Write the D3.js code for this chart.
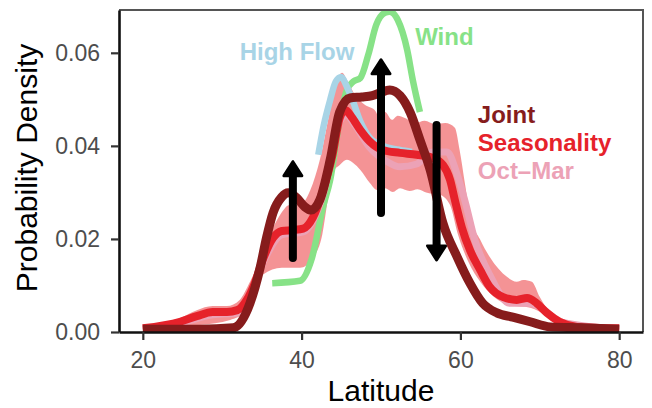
<!DOCTYPE html>
<html>
<head>
<meta charset="utf-8">
<script src="https://cdn.jsdelivr.net/npm/d3@7/dist/d3.min.js"></script>
<style>
  html, body { margin: 0; padding: 0; background: #fff; }
  svg { display: block; }
  text { font-family: "Liberation Sans", Arial, Helvetica, sans-serif; }
</style>
</head>
<body>
<svg id="chart" width="652" height="408"></svg>
<script>
// Latitude (deg) and probability density for each scenario
const windLat = [36.3, 39.8, 41.3, 42.7, 43.6, 44.8, 45.7, 46.5, 47.4, 48.4, 49.4, 50.5, 51.1, 52.1, 53.3, 54.0, 54.9];
const windDens = [0.0105, 0.0110, 0.0159, 0.0269, 0.0327, 0.0456, 0.0520, 0.0538, 0.0546, 0.0596, 0.0660, 0.0686, 0.0688, 0.0671, 0.0606, 0.0542, 0.0473];

const highFlowLat = [42.1, 42.8, 43.6, 44.3, 45.0, 45.6, 46.4, 47.4, 48.6, 50.3, 52.4, 53.9];
const highFlowDens = [0.0381, 0.0445, 0.0499, 0.0538, 0.0548, 0.0531, 0.0499, 0.0452, 0.0417, 0.0400, 0.0391, 0.0387];

const jointLat = [20.0, 27.2, 31.4, 33.5, 34.8, 35.6, 36.4, 37.5, 38.3, 39.4, 40.4, 41.2, 42.3, 43.6, 44.8, 46.1, 47.6, 48.9, 49.9, 51.1, 52.4, 53.7, 54.9, 56.2, 57.8, 59.6, 61.2, 62.8, 64.6, 66.6, 68.8, 71.3, 75.1, 80.0];
const jointDens = [0.0006, 0.0006, 0.0009, 0.0062, 0.0140, 0.0204, 0.0256, 0.0290, 0.0299, 0.0288, 0.0269, 0.0262, 0.0284, 0.0370, 0.0473, 0.0503, 0.0505, 0.0508, 0.0514, 0.0520, 0.0508, 0.0471, 0.0413, 0.0348, 0.0234, 0.0161, 0.0105, 0.0062, 0.0041, 0.0032, 0.0022, 0.0011, 0.0009, 0.0006];

const seasonLat = [20.0, 24.7, 26.8, 28.8, 30.6, 31.9, 33.1, 34.1, 35.1, 36.4, 37.5, 38.9, 40.2, 41.4, 42.7, 43.9, 44.8, 45.5, 46.3, 47.4, 48.6, 50.2, 52.4, 54.5, 56.5, 57.8, 58.7, 59.3, 60.2, 61.2, 62.5, 63.7, 65.4, 67.1, 68.4, 69.6, 70.9, 72.5, 74.7, 80.0];
const seasonDens = [0.0008, 0.0022, 0.0034, 0.0043, 0.0043, 0.0047, 0.0069, 0.0105, 0.0155, 0.0202, 0.0217, 0.0219, 0.0222, 0.0245, 0.0305, 0.0381, 0.0460, 0.0477, 0.0462, 0.0434, 0.0409, 0.0391, 0.0385, 0.0381, 0.0374, 0.0359, 0.0327, 0.0284, 0.0224, 0.0176, 0.0133, 0.0097, 0.0075, 0.0069, 0.0073, 0.0062, 0.0041, 0.0022, 0.0011, 0.0008];

const octMarLat = [20.0, 24.7, 28.8, 31.9, 33.1, 35.1, 37.5, 40.2, 42.7, 44.8, 45.6, 46.7, 48.6, 50.8, 52.4, 54.5, 56.5, 58.3, 59.6, 60.6, 61.8, 63.7, 66.2, 68.4, 70.0, 72.5, 80.0];
const octMarDens = [0.0006, 0.0019, 0.0037, 0.0041, 0.0062, 0.0148, 0.0209, 0.0215, 0.0295, 0.0452, 0.0467, 0.0445, 0.0396, 0.0366, 0.0355, 0.0361, 0.0387, 0.0387, 0.0338, 0.0280, 0.0199, 0.0123, 0.0062, 0.0062, 0.0054, 0.0022, 0.0006];

// Seasonality uncertainty band
const bandUpperLat = [20.0, 24.7, 26.8, 28.8, 30.6, 32.2, 33.5, 34.8, 36.0, 37.3, 38.5, 39.8, 41.1, 42.3, 43.6, 44.5, 45.1, 45.7, 46.7, 48.0, 49.2, 49.9, 50.5, 51.4, 52.1, 53.0, 54.3, 55.5, 56.8, 58.1, 59.3, 59.9, 60.6, 61.2, 62.5, 63.7, 65.9, 67.1, 67.9, 69.0, 70.0, 71.3, 72.9, 75.4, 80.0];
const bandUpperDens = [0.0009, 0.0030, 0.0047, 0.0056, 0.0056, 0.0069, 0.0108, 0.0155, 0.0209, 0.0252, 0.0273, 0.0273, 0.0305, 0.0370, 0.0477, 0.0542, 0.0557, 0.0542, 0.0510, 0.0488, 0.0477, 0.0460, 0.0473, 0.0456, 0.0465, 0.0460, 0.0449, 0.0454, 0.0447, 0.0449, 0.0439, 0.0391, 0.0316, 0.0252, 0.0198, 0.0161, 0.0118, 0.0108, 0.0112, 0.0108, 0.0075, 0.0041, 0.0019, 0.0011, 0.0009];
const bandLowerLat = [20.0, 27.2, 31.0, 32.9, 34.1, 35.1, 37.5, 39.8, 41.4, 42.6, 43.3, 43.9, 44.8, 45.7, 46.5, 47.4, 48.6, 49.5, 50.5, 51.5, 52.4, 53.6, 54.6, 55.8, 57.4, 58.7, 59.7, 61.0, 62.5, 64.4, 66.2, 68.8, 70.7, 72.5, 75.1, 80.0];
const bandLowerDens = [0.0006, 0.0015, 0.0026, 0.0043, 0.0080, 0.0123, 0.0138, 0.0138, 0.0159, 0.0209, 0.0284, 0.0342, 0.0359, 0.0370, 0.0363, 0.0348, 0.0320, 0.0305, 0.0309, 0.0301, 0.0309, 0.0303, 0.0307, 0.0299, 0.0295, 0.0273, 0.0209, 0.0151, 0.0108, 0.0073, 0.0058, 0.0052, 0.0037, 0.0017, 0.0009, 0.0006];

// Shifts in density: latitude, start, end
const shiftLat = [38.9, 50.0, 57.0];
const shiftFrom = [0.0159, 0.0256, 0.0445];
const shiftTo = [0.0366, 0.0585, 0.0155];

const xTicks = [20, 40, 60, 80];
const yTicks = [0.00, 0.02, 0.04, 0.06];

const svg = d3.select("#chart");
const W = 652, H = 408;
const margin = { left: 119, right: 9, top: 10, bottom: 76 };

const x = d3.scaleLinear().domain([17, 83]).range([margin.left, W - margin.right]);
const y = d3.scaleLinear().domain([0, 0.0692]).range([H - margin.bottom, margin.top]);

const zip = (a, b) => a.map((v, i) => [v, b[i]]);

svg.append("rect").attr("width", W).attr("height", H).attr("fill", "#fff");

svg.append("defs").append("clipPath").attr("id", "panel")
  .append("rect")
  .attr("x", x.range()[0]).attr("y", y.range()[1])
  .attr("width", x.range()[1] - x.range()[0])
  .attr("height", y.range()[0] - y.range()[1]);

const plot = svg.append("g").attr("clip-path", "url(#panel)");

const line = d3.line().x(d => x(d[0])).y(d => y(d[1])).curve(d3.curveMonotoneX);

// uncertainty band around the seasonality curve
const upper = zip(bandUpperLat, bandUpperDens);
const lower = zip(bandLowerLat, bandLowerDens);
const bandPath = line(upper) + "L" + line(lower.slice().reverse()).slice(1) + "Z";
plot.append("path")
  .attr("d", bandPath)
  .attr("fill", "#f38486")
  .attr("fill-opacity", 0.88);

const series = [
  { lat: windLat, dens: windDens, color: "#87e287", width: 6.5 },
  { lat: highFlowLat, dens: highFlowDens, color: "#a8d4e6", width: 6.5 },
  { lat: octMarLat, dens: octMarDens, color: "#eca2b6", width: 7 },
  { lat: seasonLat, dens: seasonDens, color: "#e6222b", width: 8 },
  { lat: jointLat, dens: jointDens, color: "#861c1c", width: 9 }
];

series.forEach(s => {
  plot.append("path")
    .attr("d", line(zip(s.lat, s.dens)))
    .attr("fill", "none")
    .attr("stroke", s.color)
    .attr("stroke-width", s.width)
    .attr("stroke-linejoin", "round");
});

// arrows showing the direction of change
const headLen = 14, headHalf = 9;
shiftLat.forEach((lat, i) => {
  const px = x(lat), y0 = y(shiftFrom[i]), y1 = y(shiftTo[i]);
  const dir = y1 < y0 ? -1 : 1;
  const base = y1 - dir * headLen;
  plot.append("line")
    .attr("x1", px).attr("x2", px)
    .attr("y1", y0).attr("y2", base)
    .attr("stroke", "#000").attr("stroke-width", 8)
    .attr("stroke-linecap", "round");
  plot.append("path")
    .attr("d", `M${px},${y1} L${px - headHalf},${base} L${px + headHalf},${base} Z`)
    .attr("fill", "#000").attr("stroke", "#000")
    .attr("stroke-width", 3).attr("stroke-linejoin", "round");
});

// panel frame: top and right edges
svg.append("path")
  .attr("d", `M${x.range()[0]},${y.range()[1]} H${x.range()[1]} V${y.range()[0]}`)
  .attr("fill", "none").attr("stroke", "#555").attr("stroke-width", 2);

// axes
const xAxis = svg.append("g")
  .attr("transform", `translate(0,${y.range()[0]})`)
  .call(d3.axisBottom(x).tickValues(xTicks).tickSize(8).tickSizeOuter(0).tickPadding(12).tickFormat(d3.format("d")));
const yAxis = svg.append("g")
  .attr("transform", `translate(${x.range()[0]},0)`)
  .call(d3.axisLeft(y).tickValues(yTicks).tickSize(8).tickSizeOuter(0).tickPadding(11).tickFormat(d3.format(".2f")));

[xAxis, yAxis].forEach(g => {
  g.select(".domain").attr("stroke", "#111").attr("stroke-width", 2.6);
  g.selectAll(".tick line").attr("stroke", "#333").attr("stroke-width", 2.2);
  g.selectAll(".tick text")
    .attr("fill", "#4d4d4d")
    .style("font-size", "23px")
    .style("font-family", "'Liberation Sans', Arial, sans-serif");
});

// axis titles
svg.append("text")
  .attr("x", (x.range()[0] + x.range()[1]) / 2)
  .attr("y", 401)
  .attr("text-anchor", "middle")
  .attr("fill", "#000")
  .style("font-size", "30px")
  .text("Latitude");

svg.append("text")
  .attr("transform", `translate(37,${(y.range()[0] + y.range()[1]) / 2 - 3}) rotate(-90)`)
  .attr("text-anchor", "middle")
  .attr("fill", "#000")
  .style("font-size", "30px")
  .text("Probability Density");

// series labels
const labels = [
  { text: "High Flow", lat: 32.2, dens: 0.0584, color: "#a8d4e6" },
  { text: "Wind", lat: 54.3, dens: 0.0617, color: "#87e287" },
  { text: "Joint", lat: 62.2, dens: 0.0449, color: "#861c1c" },
  { text: "Seasonality", lat: 62.2, dens: 0.0389, color: "#e6222b" },
  { text: "Oct\u2013Mar", lat: 62.2, dens: 0.0329, color: "#eca2b6" }
];
svg.selectAll(".lab").data(labels).enter().append("text")
  .attr("class", "lab")
  .attr("x", d => x(d.lat))
  .attr("y", d => y(d.dens))
  .attr("fill", d => d.color)
  .style("font-size", "24px")
  .style("font-weight", "bold")
  .text(d => d.text);
</script>
</body>
</html>
